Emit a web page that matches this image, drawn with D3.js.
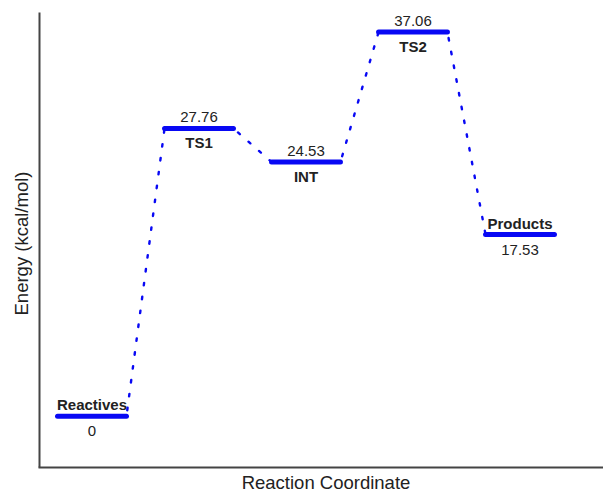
<!DOCTYPE html>
<html>
<head>
<meta charset="utf-8">
<script src="https://cdn.jsdelivr.net/npm/d3@7"></script>
<style>
  html, body { margin: 0; padding: 0; background: #fff; }
  svg { display: block; }
  text { font-family: "Liberation Sans", Arial, sans-serif; fill: #222; }
</style>
</head>
<body>
<svg id="chart" width="603" height="492"></svg>
<script>
// Reaction energy profile data
const species = ["Reactives", "TS1", "INT", "TS2", "Products"];
const energies = [0, 27.76, 24.53, 37.06, 17.53];
// Whether the species name sits above (true) or below (false) its level
const nameAbove = [true, false, false, false, true];

const width = 603, height = 492;
const margin = { left: 39, right: 0, top: 12, bottom: 25 };

const svg = d3.select("#chart");

// Position along the reaction coordinate (one step per species)
const x = d3.scaleLinear()
  .domain([0, species.length - 1])
  .range([92, 520]);
// level half-width in index units
const halfW = 0.322;

const y = d3.scaleLinear()
  .domain([-4.9, 39])
  .range([height - margin.bottom, margin.top]);

// Axes frame (left + bottom, no ticks)
const xFrame = x.copy()
  .domain([x.invert(margin.left - 1), x.invert(width)])
  .range([margin.left - 1, width]);
const yAxis = d3.axisLeft(y).tickValues([]).tickSizeOuter(0);
const xAxis = d3.axisBottom(xFrame).tickValues([]).tickSizeOuter(0);
svg.append("g")
  .attr("transform", `translate(${margin.left},0)`)
  .call(yAxis)
  .select(".domain").attr("stroke", "#444").attr("stroke-width", 2);
svg.append("g")
  .attr("transform", `translate(0,${height - margin.bottom})`)
  .call(xAxis)
  .select(".domain").attr("stroke", "#444").attr("stroke-width", 2);

// Axis titles
svg.append("text")
  .attr("transform", `translate(28,${(margin.top + height - margin.bottom) / 2 + 4}) rotate(-90)`)
  .attr("text-anchor", "middle")
  .attr("font-size", 18.5)
  .text("Energy (kcal/mol)");
svg.append("text")
  .attr("x", 326).attr("y", 489)
  .attr("text-anchor", "middle")
  .attr("font-size", 18.5)
  .text("Reaction Coordinate");

const blue = "#0808f4";

// Dotted connectors between consecutive levels
const links = d3.pairs(energies.map((e, i) => ({ e, i })));
svg.append("g").selectAll("line")
  .data(links)
  .join("line")
  .attr("x1", d => x(d[0].i + halfW))
  .attr("y1", d => y(d[0].e))
  .attr("x2", d => x(d[1].i - halfW))
  .attr("y2", d => y(d[1].e))
  .attr("stroke", blue)
  .attr("stroke-width", 2.4)
  .attr("stroke-dasharray", "2.5,11.5")
  .attr("stroke-dashoffset", -6)
  .attr("stroke-linecap", "round");

// Energy levels
svg.append("g").selectAll("line")
  .data(energies)
  .join("line")
  .attr("x1", (d, i) => x(i - halfW))
  .attr("x2", (d, i) => x(i + halfW))
  .attr("y1", d => y(d))
  .attr("y2", d => y(d))
  .attr("stroke", blue)
  .attr("stroke-width", 5)
  .attr("stroke-linecap", "round");

// Labels: names (bold) and values
const labels = svg.append("g").attr("text-anchor", "middle").attr("font-size", 15);
energies.forEach((e, i) => {
  const above = y(e) - 6;
  const below = y(e) + 20;
  labels.append("text")
    .attr("x", x(i)).attr("y", nameAbove[i] ? above : below)
    .attr("font-weight", "bold")
    .text(species[i]);
  labels.append("text")
    .attr("x", x(i)).attr("y", nameAbove[i] ? below : above)
    .text(String(e));
});
</script>
</body>
</html>
